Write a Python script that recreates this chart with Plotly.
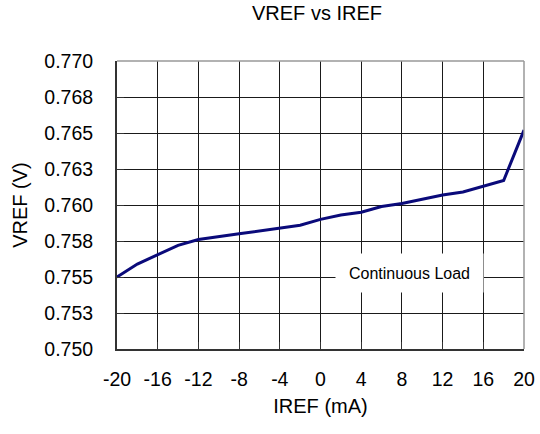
import plotly.graph_objects as go

# data
iref = [-20, -18, -14, -12, -8, -4, -2, 0, 2, 4, 6, 8, 10, 12, 14, 16, 18, 20]
vref = [0.7550, 0.7559, 0.7572, 0.7576, 0.7580, 0.7584, 0.7586, 0.7590, 0.7593,
        0.7595, 0.7599, 0.7601, 0.7604, 0.7607, 0.7609, 0.7613, 0.7617, 0.7652]

x_ticks = [-20, -16, -12, -8, -4, 0, 4, 8, 12, 16, 20]
x_labels = ['-20', '-16', '-12', '-8', '-4', '0', '4', '8', '12', '16', '20']
y_ticks = [0.750, 0.7525, 0.755, 0.7575, 0.760, 0.7625, 0.765, 0.7675, 0.770]
y_labels = ['0.750', '0.753', '0.755', '0.758', '0.760', '0.763', '0.765', '0.768', '0.770']

FONT = "Arial, Liberation Sans, sans-serif"

fig = go.Figure()
fig.add_trace(go.Scatter(x=iref, y=vref, mode='lines',
                         line=dict(color='#0a0a7a', width=3)))

fig.update_layout(
    width=540, height=434,
    margin=dict(l=117, r=16, t=61, b=85, autoexpand=False),
    paper_bgcolor='white', plot_bgcolor='white',
    showlegend=False,
    font=dict(family=FONT, color='black', size=19.5),
    title=dict(text='VREF vs IREF', font=dict(size=20, family=FONT),
               x=317 / 540, xanchor='center', xref='container',
               y=0.986, yanchor='top', yref='container'),
)

fig.update_xaxes(
    range=[-20, 20], tickvals=x_ticks, ticktext=x_labels,
    showgrid=True, gridcolor='#1a1a1a', gridwidth=1,
    showline=True, linecolor='#333333', linewidth=2,
    ticks='inside', ticklen=7, tickcolor='#333333',
    ticklabelstandoff=12, automargin=False,
    title=dict(text='IREF (mA)', font=dict(size=20), standoff=10),
    zeroline=False,
)
fig.update_yaxes(
    range=[0.750, 0.770], tickvals=y_ticks, ticktext=y_labels,
    showgrid=True, gridcolor='#1a1a1a', gridwidth=1,
    showline=True, linecolor='#333333', linewidth=2,
    ticks='inside', ticklen=7, tickcolor='#333333',
    ticklabelstandoff=18, automargin=False,
    title=dict(text='VREF (V)', font=dict(size=20), standoff=11),
    zeroline=False,
)

# gray top and right frame lines
fig.add_shape(type='line', xref='paper', yref='paper', x0=0, x1=1, y0=1, y1=1,
              line=dict(color='#999999', width=1.5))
fig.add_shape(type='line', xref='paper', yref='paper', x0=1, x1=1, y0=0, y1=1,
              line=dict(color='#999999', width=1.5))

fig.add_annotation(x=8.7, y=0.7553, text='Continuous Load', showarrow=False,
                   font=dict(size=16, family=FONT, color='black'),
                   bgcolor='white', width=145, height=36)

# drop the default 8px page margin so the figure sits at the window's corner
fig.write_html("out.html", config={'displayModeBar': False},
               post_script="document.body.style.margin='0';")
